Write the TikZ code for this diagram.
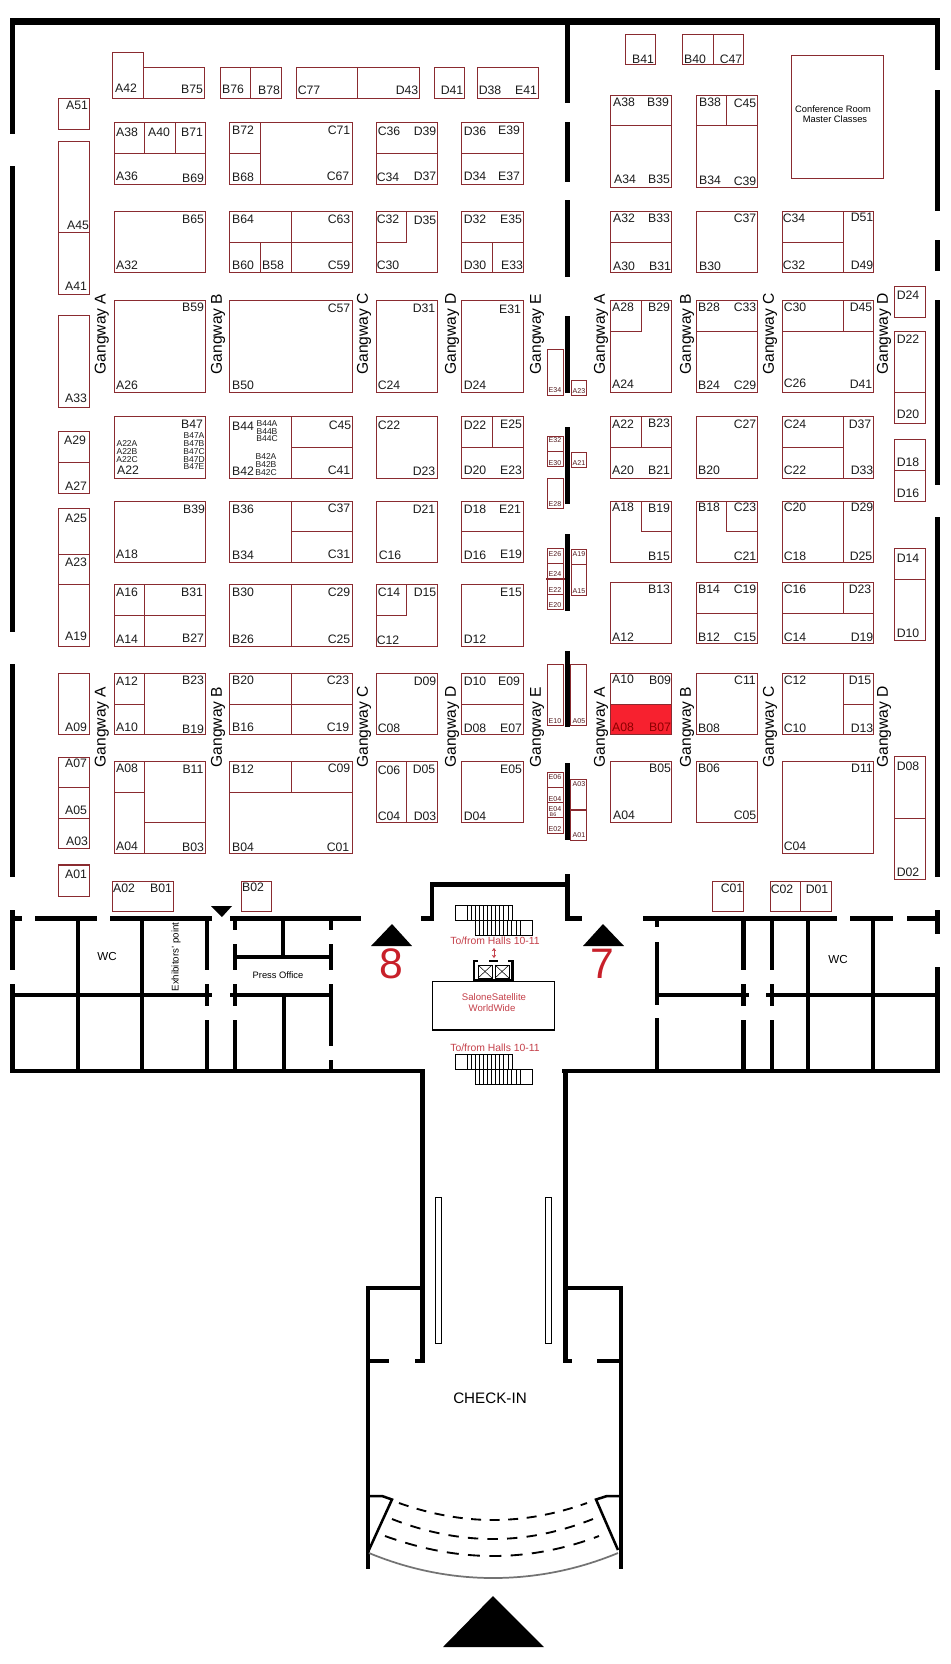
\documentclass[tikz,border=0pt]{standalone}
\usepackage{fontspec}
\setmainfont{Liberation Sans}
\usetikzlibrary{arrows.meta}
\definecolor{standred}{HTML}{8A2B30}
\definecolor{hallred}{HTML}{C8202A}
\definecolor{textred}{HTML}{C5404A}
\definecolor{labelink}{HTML}{1C1C1C}
\definecolor{hotstand}{HTML}{F7212F}
\tikzset{
  stand/.style={draw=standred,line width=0.95pt,fill=white},
  divider/.style={draw=standred,line width=0.95pt,line cap=rect},
  wall/.style={fill=black,draw=none},
  lab/.style={inner sep=0pt,text=labelink,font=\fontsize{9.2}{10}\selectfont},
  tiny/.style={inner sep=0pt,text=labelink,font=\fontsize{6.4}{7}\selectfont},
  mini/.style={inner sep=0pt,text=standred!60!black,font=\fontsize{5.3}{6}\selectfont},
  gang/.style={inner sep=0pt,rotate=90,text=black,font=\fontsize{11.7}{12}\selectfont},
  note/.style={inner sep=0pt,text=black,font=\fontsize{7}{8}\selectfont},
  hallnum/.style={inner sep=0pt,text=hallred,font=\fontsize{32}{34}\selectfont},
  redtxt/.style={inner sep=0pt,text=textred,font=\fontsize{7.8}{8}\selectfont},
  stair/.style={draw=black,line width=0.75pt},
  dashrow/.style={draw=black,line width=1.4pt},
}
\begin{document}
\begin{tikzpicture}[x=0.75pt,y=-0.75pt]
\useasboundingbox (0,0) rectangle (950,1664);
\fill[white] (0,0) rectangle (950,1664);

% ---------- walls: x1/y1/x2/y2
\foreach \a/\b/\c/\d in {
  10/18/940/25,
  10/25/15/134, 10/166/15/632, 10/664/15/877, 10/910/15/970, 10/984/15/1073,
  565/25/570/103, 565/122/570/182, 565/200/570/277, 565/316/570/393,
  565/427/570/504, 565/534/570/611, 565/651/570/727, 565/763/570/840, 565/874/570/921,
  935/25/940/70, 935/90/940/211, 935/240/940/271, 935/300/940/485, 935/517/940/877,
  935/910/940/934, 935/967/940/1073,
  10/916/22/921, 35/916/97/921, 110/916/212/921, 230/916/361/921,
  421/916/434/921, 430/883/434/921, 430/882/570/887, 565/916/582/921,
  643/916/837/921, 850/916/893/921, 907/916/940/921,
  10/993/212/997, 230/993/333/997, 235/955/331/959,
  657/993/749/997, 766/993/940/997,
  10/1069/425/1073, 562/1069/940/1073,
  75.5/921/79.5/1071, 140/921/144/1071,
  205/921/209/970, 205/984/209/1006, 205/1020/209/1071,
  233/921/237/930, 233/944/237/970, 233/984/237/1006, 233/1020/237/1071,
  281/921/285/957, 282/995/286/1071,
  329/921/333/930, 329/944/333/970, 329/984/333/1046, 329/1060/333/1071,
  655/921/659/927, 655/942/659/1005, 655/1018/659/1071,
  741/921/745.5/970, 741/984/745.5/1006, 741/1020/745.5/1071,
  770/921/774/970, 770/984/774/1006, 770/1020/774/1071,
  806/921/810/1071, 871/921/875/1071,
  420/1071/424.5/1363, 563/1071/567.5/1363,
  366/1286/422/1290, 565/1286/622/1290,
  365.5/1286/369.5/1569, 619/1286/623/1569,
  367/1359/389/1363, 415/1359/424/1363, 563/1359/572/1363, 597/1359/621/1363}
  \fill[wall] (\a,\b) rectangle (\c,\d);

% ---------- triangles
\fill[black] (211,906) -- (232,906) -- (222,917) -- cycle;
\fill[black] (392,924) -- (412,946) -- (371,946) -- cycle;
\fill[black] (603,924) -- (624,946) -- (583,946) -- cycle;
\fill[black] (493,1596) -- (544,1647) -- (443,1647) -- cycle;
\node[hallnum] (hall8) at (391,964) {8};
\node[hallnum] (hall7) at (602,964) {7};

% ---------- entrance
\draw[black,line width=1.9pt] (367,1496) -- (382,1496) -- (392,1499.5) -- (368,1552);
\draw[black,line width=1.9pt] (621,1496) -- (607,1496) -- (596,1499.5) -- (618,1550);
\draw[black!55,line width=1.3pt] (369,1553) .. controls (410,1570) and (452,1578) .. (493,1578) .. controls (535,1578) and (577,1570) .. (618,1553);
\draw[dashrow,dash pattern=on 7.5pt off 6.4pt] (399,1503) .. controls (430,1514) and (462,1520) .. (493,1520) .. controls (525,1520) and (556,1514) .. (587,1503);
\draw[dashrow,dash pattern=on 7.8pt off 6.9pt] (392,1519) .. controls (425,1532) and (459,1539) .. (493,1539) .. controls (527,1539) and (560,1532) .. (593,1519);
\draw[dashrow,dash pattern=on 9pt off 7pt] (385,1536) .. controls (421,1549) and (457,1556) .. (493,1556) .. controls (529,1556) and (565,1549) .. (599,1536);
\draw[black,line width=0.6pt] (435,1197) rectangle (441.7,1343);
\draw[black,line width=0.6pt] (545,1197) rectangle (551.7,1343);
\node[inner sep=0pt,text=black,font=\fontsize{11.4}{12}\selectfont] (checkin) at (490,1398) {CHECK-IN};

% ---------- stairs
\foreach \dy in {0,149}{
  \begin{scope}[yshift=-\dy*0.75pt]
    \draw[stair] (455,905) rectangle (467,920.5);
    \draw[stair] (467,905) rectangle (512,920.5);
    \draw[stair] (475,920.5) rectangle (520,935);
    \draw[stair] (520,920.5) rectangle (532,935);
    \foreach \i in {1,...,10}{
      \draw[stair] ({467+\i*4.1},905) -- ({467+\i*4.1},920.5);
      \draw[stair] ({475+\i*4.1},920.5) -- ({475+\i*4.1},935);
    }
  \end{scope}
}
\node[redtxt] (tf1) at (495,941) {To/from Halls 10-11};
\node[redtxt] (tf2) at (495,1048) {To/from Halls 10-11};
\draw[textred,line width=0.5pt,{Stealth[length=2.4pt,width=3.4pt]}-{Stealth[length=2.4pt,width=3.4pt]}] (494,948) -- (494,958);

% ---------- lifts and satellite box
\draw[black,line width=1.7pt] (474,960) -- (474,980.5) -- (512.5,980.5) -- (512.5,960);
\draw[black,line width=0.7pt] (473.5,960) rectangle (477,961.5);
\draw[black,line width=0.7pt] (489.5,960) rectangle (497.5,961.5);
\draw[black,line width=0.7pt] (508.5,960) rectangle (513,961.5);
\foreach \lx in {478,495}{
  \draw[black,line width=0.55pt] (\lx,965) rectangle ++(14,13);
  \draw[black,line width=0.4pt] (\lx,965) -- ++(14,13);
  \draw[black,line width=0.4pt] (\lx,978) -- ++(14,-13);
}
\draw[black,line width=0.8pt,fill=white] (432.5,981.5) rectangle (554.5,1030);
\node[redtxt,font=\fontsize{7.2}{8}\selectfont] (sat1) at (494,997) {SaloneSatellite};
\node[redtxt,font=\fontsize{7.2}{8}\selectfont] (sat2) at (492,1008) {WorldWide};

% ---------- stands: outer rectangles
\fill[hotstand] (610.3,704.3) rectangle (671.7,734.3);
\foreach \a/\b/\c/\d in {
  112.3/52.3/143.7/98.3, 143.7/67.7/204.7/98.3, 220.3/67.7/281.7/98.3, 296.3/67.7/419.3/98.3,
  434.3/67.7/464.3/98.3, 477.3/67.7/538.3/98.3,
  58.3/98.3/89.7/129.3, 58.3/141.3/89.7/294.3, 58.3/315.3/89.7/407.3, 58.3/431.7/89.7/493.3,
  58.3/508.3/89.7/646.3, 58.3/673.3/89.7/734.3, 58.3/757.3/89.7/848.3, 58.3/865/89.7/896.3,
  112.3/881.3/173.7/911.7, 241.3/881.3/271.7/911.7, 712.3/881.3/743.7/911.7, 770.3/881.3/831.7/911.7,
  625.3/34.3/655.7/64.3, 682.3/34.3/743.7/64.3, 791.7/55.3/883.7/178.3,
  610.3/95.7/671.7/187.7, 696.7/95.7/757.7/187.7,
  894.3/286.7/925.7/317.3, 894.3/331.3/925.7/423.3, 894.3/439.3/925.7/501.3,
  894.3/548.3/925.7/640.3, 894.3/756.7/925.7/879.3,
  547.3/349.3/563.7/395.7, 571.3/380.3/586.7/395.7, 547.3/436.3/563.7/466.7, 547.3/478.3/563.7/508.3,
  571.3/452.3/586.7/467.3, 547.3/548.3/563.7/609.3, 571.3/549.7/586.7/595.3,
  547.3/664.3/563.7/725.7, 570.3/664.3/586.7/725.7, 547.3/772.3/563.7/833.3, 570.3/779.3/586.7/840.7}
  \draw[stand,fill=none] (\a,\b) rectangle (\c,\d);
% the four left columns and three right columns, row by row
\foreach \a/\c in {114.3/205.7, 229.3/352.7, 376.3/437.7, 461.7/523.3}
  \foreach \b/\d in {122.3/184.3, 211.3/272.3, 300.3/392.3, 416.3/478.3, 501.3/562.3, 584.3/646.3, 673.3/734.3}
    \draw[stand,fill=none] (\a,\b) rectangle (\c,\d);
\draw[stand,fill=none] (114.3,761.3) rectangle (205.7,853.3);
\draw[stand,fill=none] (229.3,761.3) rectangle (352.7,853.3);
\draw[stand,fill=none] (376.3,761.3) rectangle (437.7,822.3);
\draw[stand,fill=none] (461.7,761.3) rectangle (523.3,822.3);
\foreach \a/\c in {610.3/671.7, 696.7/757.7, 782.3/873.7}
  \foreach \b/\d in {300.3/392.3, 416.3/478.3, 501.3/562.3, 582.3/643.3, 673.3/734.3}
    \draw[stand,fill=none] (\a,\b) rectangle (\c,\d);
\foreach \a/\b/\c/\d in {610.3/211.3/671.7/272.3, 696.7/211.3/757.7/272.3, 782.3/211.3/873.7/272.3,
  610.3/761.3/671.7/822.3, 696.7/761.3/757.7/822.3, 782.3/761.3/873.7/853.3}
  \draw[stand,fill=none] (\a,\b) rectangle (\c,\d);

% ---------- stands: dividers
\foreach \a/\b/\c/\d in {
  143.7/67.7/143.7/98.3, 250.3/67.7/250.3/98.3, 357.3/67.7/357.3/98.3,
  58.3/232.3/89.7/232.3, 58.3/462.3/89.7/462.3, 58.3/554.3/89.7/554.3, 58.3/584.3/89.7/584.3,
  58.3/787.3/89.7/787.3, 58.3/818.3/89.7/818.3,
  800.3/881.3/800.3/911.7, 713.3/34.3/713.3/64.3,
  114.3/153.3/205.7/153.3, 144.3/122.3/144.3/153.3, 175.3/122.3/175.3/153.3,
  260.3/122.3/260.3/184.3, 229.3/153.3/260.3/153.3,
  376.3/153.3/437.7/153.3, 461.7/153.3/523.3/153.3,
  229.3/242.3/352.7/242.3, 291.3/211.3/291.3/272.3, 260.3/242.3/260.3/272.3,
  406.3/211.3/406.3/242.3, 376.3/242.3/406.3/242.3,
  461.7/242.3/523.3/242.3, 492.3/242.3/492.3/272.3,
  291.3/416.3/291.3/478.3, 291.3/447.3/352.7/447.3,
  492.3/416.3/492.3/447.3, 461.7/447.3/523.3/447.3,
  291.3/501.3/291.3/562.3, 291.3/531.3/352.7/531.3, 461.7/531.3/523.3/531.3,
  144.3/584.3/144.3/646.3, 114.3/615.3/205.7/615.3, 291.3/584.3/291.3/646.3,
  406.3/584.3/406.3/615.3, 376.3/615.3/406.3/615.3,
  144.3/673.3/144.3/734.3, 114.3/704.3/144.3/704.3,
  291.3/673.3/291.3/734.3, 229.3/704.3/352.7/704.3, 461.7/704.3/523.3/704.3,
  144.3/761.3/144.3/853.3, 114.3/792.3/144.3/792.3, 144.3/822.3/205.7/822.3,
  229.3/792.3/352.7/792.3, 291.3/761.3/291.3/792.3, 406.3/761.3/406.3/822.3,
  610.3/125.3/671.7/125.3, 696.7/125.3/757.7/125.3, 726.7/95.7/726.7/125.3,
  610.3/242.3/671.7/242.3, 843.3/211.3/843.3/272.3, 782.3/242.3/843.3/242.3,
  641.7/300.3/641.7/331.3, 610.3/331.3/641.7/331.3, 696.7/331.3/757.7/331.3,
  782.3/331.3/873.7/331.3, 843.3/300.3/843.3/331.3,
  610.3/447.3/671.7/447.3, 641.7/416.3/641.7/447.3, 843.3/416.3/843.3/478.3, 782.3/447.3/843.3/447.3,
  641.7/501.3/641.7/531.3, 641.7/531.3/671.7/531.3, 726.7/501.3/726.7/531.3, 726.7/531.3/757.7/531.3,
  843.3/501.3/843.3/562.3,
  696.7/613.3/757.7/613.3, 782.3/613.3/873.7/613.3, 843.3/582.3/843.3/613.3,
  610.3/704.3/671.7/704.3, 843.3/673.3/843.3/734.3, 843.3/704.3/873.7/704.3,
  894.3/392.3/925.7/392.3, 894.3/470.3/925.7/470.3, 894.3/579.3/925.7/579.3, 894.3/818.3/925.7/818.3,
  547.3/451.3/563.7/451.3, 547.3/563.7/563.7/563.7, 547.3/594.3/563.7/594.3,
  571.3/564.3/586.7/564.3, 547.3/787.3/563.7/787.3, 547.3/802.3/563.7/802.3, 547.3/817.3/563.7/817.3,
  570.3/810/586.7/810}
  \draw[divider] (\a,\b) -- (\c,\d);
\draw[standred,line width=1.6pt] (546,579) -- (565,579);

% ---------- stand labels
\foreach \x/\y/\t in {
  126/88/A42, 192/89/B75, 233/89/B76, 269/90/B78, 309/90/C77, 407/90/D43, 452/90/D41, 490/90/D38, 526/90/E41,
  77/105/A51, 78/225/A45, 76/286/A41, 76/398/A33, 75/440/A29, 76/486/A27, 76/518/A25, 76/562/A23, 76/636/A19,
  76/727/A09, 76/763/A07, 76/810/A05, 77/841/A03, 76/874/A01,
  124/888/A02, 161/888/B01, 253/887/B02, 732/888/C01, 782/889/C02, 817/889/D01,
  127/132/A38, 159/132/A40, 192/132/B71, 127/176/A36, 193/178/B69,
  243/130/B72, 339/130/C71, 243/177/B68, 338/176/C67,
  389/131/C36, 425/131/D39, 388/177/C34, 425/176/D37,
  475/131/D36, 509/130/E39, 475/176/D34, 509/176/E37,
  193/219/B65, 127/265/A32,
  243/219/B64, 339/219/C63, 243/265/B60, 273/265/B58, 339/265/C59,
  388/219/C32, 425/220/D35, 388/265/C30,
  475/219/D32, 511/219/E35, 475/265/D30, 512/265/E33,
  193/307/B59, 127/385/A26, 339/308/C57, 243/385/B50, 424/308/D31, 389/385/C24, 510/309/E31, 475/385/D24,
  192/424/B47, 128/470/A22, 243/426/B44, 243/471/B42, 340/425/C45, 339/470/C41,
  389/425/C22, 424/471/D23, 475/425/D22, 511/424/E25, 475/470/D20, 511/470/E23,
  194/509/B39, 127/554/A18, 243/509/B36, 339/508/C37, 243/555/B34, 339/554/C31,
  424/509/D21, 390/555/C16, 475/509/D18, 510/509/E21, 475/555/D16, 511/554/E19,
  127/592/A16, 192/592/B31, 127/639/A14, 193/638/B27,
  243/592/B30, 339/592/C29, 243/639/B26, 339/639/C25,
  389/592/C14, 425/592/D15, 388/640/C12, 511/592/E15, 475/639/D12,
  127/681/A12, 193/680/B23, 127/727/A10, 193/729/B19,
  243/680/B20, 338/680/C23, 243/727/B16, 338/727/C19,
  425/681/D09, 389/728/C08, 475/681/D10, 509/681/E09, 475/728/D08, 511/728/E07,
  127/768/A08, 193/769/B11, 127/846/A04, 193/847/B03,
  243/769/B12, 339/768/C09, 243/847/B04, 338/847/C01,
  389/770/C06, 424/769/D05, 389/816/C04, 425/816/D03, 511/769/E05, 475/816/D04,
  643/59/B41, 695/59/B40, 731/59/C47,
  624/102/A38, 658/102/B39, 625/179/A34, 659/179/B35,
  710/102/B38, 745/103/C45, 710/180/B34, 745/181/C39,
  624/218/A32, 659/218/B33, 624/266/A30, 660/266/B31,
  745/218/C37, 710/266/B30, 794/218/C34, 862/217/D51, 794/265/C32, 862/265/D49,
  623/307/A28, 659/307/B29, 623/384/A24,
  709/307/B28, 745/307/C33, 709/385/B24, 745/385/C29,
  795/307/C30, 861/307/D45, 795/383/C26, 861/384/D41,
  623/424/A22, 659/423/B23, 623/470/A20, 659/470/B21,
  745/424/C27, 709/470/B20, 795/424/C24, 860/424/D37, 795/470/C22, 862/470/D33,
  623/507/A18, 659/508/B19, 659/556/B15, 709/507/B18, 745/507/C23, 745/556/C21,
  795/507/C20, 862/507/D29, 795/556/C18, 861/556/D25,
  659/589/B13, 623/637/A12, 709/589/B14, 745/589/C19, 709/637/B12, 745/637/C15,
  795/589/C16, 860/589/D23, 795/637/C14, 862/637/D19,
  623/679/A10, 660/680/B09, 745/680/C11, 709/728/B08,
  795/680/C12, 860/680/D15, 795/728/C10, 862/728/D13,
  660/768/B05, 624/815/A04, 709/768/B06, 745/815/C05, 862/768/D11, 795/846/C04,
  908/295/D24, 908/339/D22, 908/414/D20, 908/462/D18, 908/493/D16, 908/558/D14, 908/633/D10, 908/766/D08, 908/872/D02}
  \node[lab] (s\t-\x) at (\x,\y) {\t};
\foreach \x/\y/\t in {623/727/A08, 660/727/B07}
  \node[lab,text=red!55!black] (s\t-\x) at (\x,\y) {\t};
\foreach \x/\y/\t in {
  194/436/B47A, 194/444/B47B, 194/452/B47C, 194/460/B47D, 194/467/B47E,
  127/444/A22A, 127/452/A22B, 127/460/A22C,
  267/424/B44A, 267/432/B44B, 267/439/B44C, 266/457/B42A, 266/465/B42B, 266/473/B42C}
  \node[tiny] (t\t) at (\x,\y) {\t};
\foreach \x/\y/\t in {
  555/390/E34, 579/391/A23, 555/440/E32, 555/463/E30, 555/504/E28, 579/463/A21,
  555/554/E26, 555/574/E24, 555/590/E22, 555/605/E20, 579/554/A19, 579/591/A15,
  555/721/E10, 579/721/A05, 555/777/E06, 555/799/E04, 555/809/E04, 555/829/E02,
  579/784/A03, 579/835/A01}
  \node[mini] (m\t-\y) at (\x,\y) {\t};
\node[mini,font=\fontsize{4}{4}\selectfont] (mB6) at (553,815) {B6};

% ---------- gangways
\foreach \y in {334,727}
  \foreach \x/\t in {101.7/A, 218/B, 364/C, 452/D, 537/E, 601/A, 687/B, 770/C, 884/D}
    \node[gang] (g\x-\y) at (\x,\y) {Gangway \t};

% ---------- room texts
\node[note] (conf1) at (833,109) {Conference Room};
\node[note] (conf2) at (835,119) {Master Classes};
\node[note,font=\fontsize{8.7}{9}\selectfont] (wc1) at (107,956) {WC};
\node[note,font=\fontsize{8.7}{9}\selectfont] (wc2) at (838,959) {WC};
\node[note,rotate=90,font=\fontsize{7.3}{8}\selectfont] (expt) at (176,957) {Exhibitors' point};
\node[note] (press) at (278,975) {Press Office};
\end{tikzpicture}
\end{document}
